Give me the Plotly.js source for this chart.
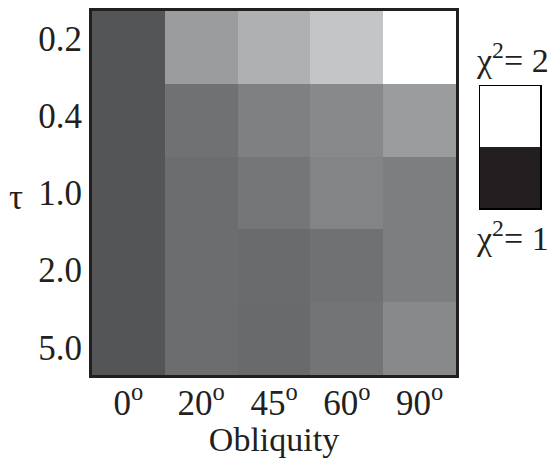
<!DOCTYPE html>
<html>
<head>
<meta charset="utf-8">
<script src="https://cdn.plot.ly/plotly-3.0.1.min.js"></script>
<style>html,body{margin:0;padding:0;background:#fff;}#chart{width:555px;height:458px;}</style>
</head>
<body>
<div id="chart"></div>
<script>
// Data
const obliquityLabels = ['0<sup>o</sup>', '20<sup>o</sup>', '45<sup>o</sup>', '60<sup>o</sup>', '90<sup>o</sup>'];
const tauLabels = ['0.2', '0.4', '1.0', '2.0', '5.0'];
// chi^2 values (rows = tau, columns = obliquity)
const chiRow02 = [1.20, 1.61, 1.73, 1.85, 2.00];
const chiRow04 = [1.20, 1.36, 1.45, 1.50, 1.61];
const chiRow10 = [1.20, 1.34, 1.39, 1.47, 1.44];
const chiRow20 = [1.20, 1.34, 1.33, 1.36, 1.44];
const chiRow50 = [1.20, 1.34, 1.32, 1.38, 1.50];
const legendValues = [1, 2];
const legendLabels = ['χ<sup>2</sup>= 1', 'χ<sup>2</sup>= 2'];

const zMain = [chiRow02, chiRow04, chiRow10, chiRow20, chiRow50];
const rowIdx = tauLabels.map((_, i) => i);
const colIdx = obliquityLabels.map((_, i) => i);
// tick labels in the original are spread slightly wider than the rows
const tauTickSpread = 1.06;
const tauTickVals = rowIdx.map(i => 2 + (i - 2) * tauTickSpread);

const grayScale = [
  [0, '#231f20'],
  [0.2, 'rgb(84,85,87)'],
  [0.85, 'rgb(196,197,199)'],
  [1, '#ffffff']
];
const serif = 'Liberation Serif, Times New Roman, serif';
const ink = '#231f20';
const fs = 35;
const fsTitle = 34;

const traces = [
  {
    type: 'heatmap',
    z: zMain,
    x: colIdx,
    y: rowIdx,
    zmin: 1, zmax: 2,
    colorscale: grayScale,
    showscale: false,
    xaxis: 'x', yaxis: 'y',
    hoverinfo: 'skip'
  },
  {
    type: 'heatmap',
    z: legendValues.map(v => [v]),
    x: [0],
    y: [0, 1],
    zmin: 1, zmax: 2,
    colorscale: grayScale,
    showscale: false,
    xaxis: 'x2', yaxis: 'y2',
    hoverinfo: 'skip'
  }
];

const layout = {
  width: 555, height: 458,
  margin: {l: 92, r: 12, t: 11, b: 83},
  paper_bgcolor: '#fff', plot_bgcolor: '#fff',
  font: {family: serif, color: ink, size: fs},
  showlegend: false,
  xaxis: {
    domain: [0, 364 / 451],
    range: [-0.5, 4.5],
    tickvals: colIdx,
    ticktext: obliquityLabels,
    ticks: '',
    ticklabelstandoff: -5,
    showgrid: false, zeroline: false,
    showline: true, mirror: true, linewidth: 3, linecolor: ink,
    tickfont: {family: serif, size: fs, color: ink},
    title: {text: 'Obliquity', font: {family: serif, size: fsTitle, color: ink}, standoff: 7},
    fixedrange: true
  },
  yaxis: {
    domain: [0, 1],
    range: [4.5, -0.5],
    tickvals: tauTickVals,
    ticktext: tauLabels,
    ticks: '',
    showgrid: false, zeroline: false,
    showline: true, mirror: true, linewidth: 3, linecolor: ink,
    tickfont: {family: serif, size: fs, color: ink},
    fixedrange: true
  },
  xaxis2: {
    domain: [388 / 451, 448 / 451],
    anchor: 'y2',
    range: [-0.5, 0.5],
    showticklabels: false, ticks: '',
    showgrid: false, zeroline: false,
    showline: true, mirror: true, linewidth: 1.5, linecolor: '#000',
    fixedrange: true
  },
  yaxis2: {
    domain: [167 / 364, 289 / 364],
    anchor: 'x2',
    range: [-0.5, 1.5],
    showticklabels: false, ticks: '',
    showgrid: false, zeroline: false,
    showline: true, mirror: true, linewidth: 1.5, linecolor: '#000',
    fixedrange: true
  },
  annotations: [
    {text: 'τ', xref: 'paper', yref: 'paper', x: (16 - 92) / 451, y: (375 - 197) / 364,
     xanchor: 'center', yanchor: 'middle', showarrow: false,
     font: {family: serif, size: fs, color: ink}},
    {text: legendLabels[1], xref: 'paper', yref: 'paper', x: (512 - 92) / 451, y: (375 - 58) / 364,
     xanchor: 'center', yanchor: 'middle', showarrow: false,
     font: {family: serif, size: fsTitle, color: ink}},
    {text: legendLabels[0], xref: 'paper', yref: 'paper', x: (512 - 92) / 451, y: (375 - 236) / 364,
     xanchor: 'center', yanchor: 'middle', showarrow: false,
     font: {family: serif, size: fsTitle, color: ink}}
  ]
};

Plotly.newPlot('chart', traces, layout, {staticPlot: true, displayModeBar: false});
</script>
</body>
</html>
